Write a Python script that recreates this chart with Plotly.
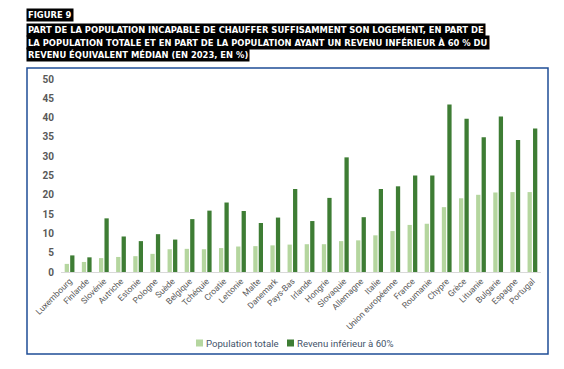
import plotly.graph_objects as go

categories = ["Luxembourg", "Finlande", "Slovénie", "Autriche", "Estonie", "Pologne", "Suède",
              "Belgique", "Tchéquie", "Croatie", "Lettonie", "Malte", "Danemark", "Pays-Bas",
              "Irlande", "Hongrie", "Slovaquie", "Allemagne", "Italie", "Union européenne",
              "France", "Roumanie", "Chypre", "Grèce", "Lituanie", "Bulgarie", "Espagne", "Portugal"]
pop_totale = [2.1, 2.6, 3.6, 3.9, 4.1, 4.7, 5.9, 6.0, 5.9, 6.2, 6.6, 6.7, 6.9, 7.1,
              7.2, 7.2, 8.0, 8.2, 9.5, 10.6, 12.2, 12.5, 16.8, 19.1, 20.0, 20.6, 20.7, 20.7]
revenu_60 = [4.3, 3.8, 13.9, 9.2, 8.0, 9.8, 8.4, 13.7, 15.9, 18.0, 15.8, 12.7, 14.1, 21.5,
             13.2, 19.2, 29.7, 14.2, 21.5, 22.2, 25.0, 25.0, 43.4, 39.7, 34.9, 40.3, 34.2, 37.2]
y_ticks = [0, 5, 10, 15, 20, 25, 30, 35, 40, 45, 50]
series_names = ["Population totale", "Revenu inférieur à 60%"]
series_colors = ["#b5d69f", "#3e7d34"]

title_lines = [
    "FIGURE 9",
    "PART DE LA POPULATION INCAPABLE DE CHAUFFER SUFFISAMMENT SON LOGEMENT, EN PART DE",
    "LA POPULATION TOTALE ET EN PART DE LA POPULATION AYANT UN REVENU INFÉRIEUR À 60 % DU",
    "REVENU ÉQUIVALENT MÉDIAN (EN 2023, EN %)",
]

W, H = 564, 369
L, R, T, B = 53, 533, 71, 264

def px_x(px):
    return (px - L) / (R - L)

def px_y(py):
    return (B - py) / (B - T)

fig = go.Figure()
for name, vals, col in zip(series_names, [pop_totale, revenu_60], series_colors):
    fig.add_trace(go.Bar(name=name, x=categories, y=vals,
                         marker=dict(color=col, line=dict(width=0))))

annotations = []
title_y = [7, 22, 34, 46]
for txt, py in zip(title_lines, title_y):
    annotations.append(dict(
        text=txt, xref="paper", yref="paper", x=px_x(18), y=px_y(py),
        xanchor="left", yanchor="middle", showarrow=False,
        font=dict(family="DejaVu Sans", size=8.4, color="white", weight="bold"),
        bgcolor="black", borderpad=1,
    ))

shapes = [dict(type="rect", xref="paper", yref="paper",
               x0=px_x(19), x1=px_x(540), y0=px_y(346), y1=px_y(60),
               line=dict(color="#1f4e96", width=1.5), fillcolor="rgba(0,0,0,0)", layer="below")]

# custom compact legend
legend_x = [188, 279]
legend_y = 335
for lx, name, col in zip(legend_x, series_names, series_colors):
    shapes.append(dict(type="rect", xref="paper", yref="paper",
                       x0=px_x(lx), x1=px_x(lx + 7), y0=px_y(legend_y + 3.5), y1=px_y(legend_y - 3.5),
                       line=dict(width=0), fillcolor=col))
    annotations.append(dict(text=name, xref="paper", yref="paper", x=px_x(lx + 8), y=px_y(legend_y),
                            xanchor="left", yanchor="middle", showarrow=False,
                            font=dict(family="Roboto", size=9.6, color="#44546a")))

fig.update_layout(
    width=W, height=H,
    margin=dict(l=L, r=W - R, t=T, b=H - B),
    paper_bgcolor="white", plot_bgcolor="white",
    barmode="group", bargap=0.36, bargroupgap=0.22,
    showlegend=False,
    font=dict(family="Roboto", color="#595959"),
    annotations=annotations,
    shapes=shapes,
)
fig.update_xaxes(tickangle=-45, tickfont=dict(size=8.5, color="#595959"), showgrid=False,
                 showline=True, linecolor="#d9d9d9", linewidth=1, ticks="")
fig.update_yaxes(range=[0, 50], tickvals=y_ticks, tickfont=dict(size=10, color="#595959", weight="bold"),
                 showgrid=False, zeroline=False, showline=False, ticks="", ticklabelstandoff=6)

fig.write_html("out.html")
